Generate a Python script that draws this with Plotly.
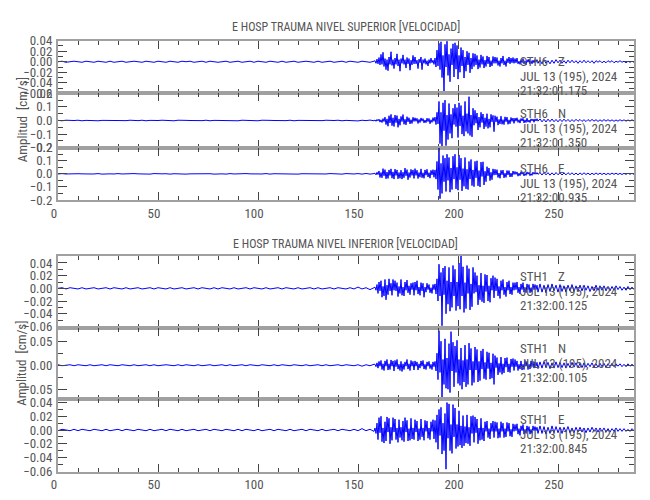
import numpy as np
import plotly.graph_objects as go

# ---------------- data (velocity, units of 1e-3 cm/s) ----------------
# samples: t = 0..158 step 2 s (80), 158.5..240 step 0.5 s (164), 241..288 step 1 s (48)
top_z = [
    0,1,-1,0,1,0,-1,1,0,-1, 1,0,-1,1,-1,0,1,-1,0,1, 0,-1,1,0,-1,1,0,-1,1,0, -1,1,0,1,-1,0,1,-1,1,0,
    -1,0,1,-1,0,1,-1,0,1,-1, 1,0,-1,1,0,-1,1,-1,0,1, -1,0,1,0,-1,1,-1,0,1,-1, 0,1,-1,1,0,-1,1,0,-1,1,
    2,-3,5,-4,8,-6,14,-5,18,-9,6,-15,4,-17,9,-5,19,-7,4,-13,
    7,-5,15,-8,4,-18,6,-3,13,-5,4,-12,8,-4,6,-16,3,-6,12,-4,
    9,-4,3,-13,5,-2,9,-15,4,-3,6,-5,2,-8,4,-3,7,-2,3,-5,
    7,-10,22,-8,35,-15,38,-30,12,-58,33,-10,39,-26,14,-38,25,-6,34,-29,
    36,-14,31,-33,12,-20,27,-8,22,-31,9,-18,20,-6,17,-21,7,-14,16,-9,
    15,-6,12,-14,4,-11,13,-5,10,-12,3,-9,11,-4,9,-10,2,-8,10,-3,
    9,-3,8,-7,2,-9,7,-3,11,-6,2,-9,6,-2,9,-4,7,-2,8,-3,
    6,-2,7,-4,1,-5,4,-2,6,-4,2,-6,4,-1,5,-4,2,-4,3,-2,
    4,-1,4,-3,
    3,-4,4,-3,2,-4,3,-3,4,-2, 3,-3,2,-3,3,-2,3,-2,2,-3, 2,-2,3,-2,2,-2,2,-3,2,-1, 2,-2,1,-2,2,-1,2,-2,1,-1,
    2,-1,1,-2,1,-1,1,-1,
]
top_n = [
    1,-2,2,-1,0,2,-2,1,-1,2, -2,1,0,-1,2,-2,1,-1,2,0, -1,2,-2,1,-1,0,2,-1,1,-2, 2,-1,1,0,-2,1,-1,2,-2,1,
    0,-1,2,-1,1,-2,2,0,-1,1, -2,2,-1,1,0,-2,1,-1,2,-2, 1,0,-1,2,-2,1,-1,2,-1,0, 2,-2,1,-1,2,-3,2,-1,3,-2,
    4,-6,8,-3,10,-12,5,-15,14,-8,25,-30,12,-42,35,-18,45,-38,20,-44,
    40,-16,36,-50,12,-35,30,-8,44,-28,9,-32,28,-10,20,-25,6,-22,24,-7,
    20,-6,16,-22,8,-15,19,-5,14,-18,4,-16,17,-8,15,-24,5,-14,21,-6,
    25,-30,60,-25,140,-170,60,-200,130,-75,150,-185,40,-140,125,-95,45,-130,90,-30,
    120,-45,95,-125,130,-40,110,-100,35,-115,140,-80,50,-95,175,-110,40,-120,90,-35,
    75,-20,55,-70,25,-50,60,-15,48,-62,20,-45,50,-58,12,-50,45,-10,38,-82,
    35,-10,28,-34,8,-25,32,-28,6,-30,27,-9,25,-28,5,-24,22,-7,18,-21,
    18,-5,20,-14,6,-19,15,-4,16,-18,5,-15,17,-12,4,-15,12,-3,11,-13,
    12,-4,13,-5,
    12,-10,9,-11,10,-8,11,-9,8,-10, 9,-8,10,-7,8,-9,7,-8,9,-6, 8,-7,6,-8,7,-6,8,-5,6,-7, 5,-6,7,-5,6,-5,5,-6,4,-5,
    6,-4,5,-5,4,-4,5,-4,
]
top_e = [
    -1,2,-1,1,-2,1,0,2,-1,-1, 2,-2,1,0,-1,2,-1,1,-2,2, 0,-1,1,-2,2,-1,0,1,-2,1, -1,2,-2,0,1,-1,2,-1,1,-2,
    1,0,-2,2,-1,1,-1,2,0,-2, 1,-1,2,-2,1,0,-1,2,-1,1, -2,1,0,-1,2,-2,1,-1,2,-1, 1,-2,2,0,-1,2,-2,3,-2,2,
    5,-8,12,-6,22,-28,10,-30,40,-15,32,-38,14,-35,30,-12,38,-33,15,-40,
    36,-12,30,-38,10,-34,28,-40,12,-30,44,-15,32,-45,10,-28,34,-12,30,-35,
    40,-12,28,-36,10,-25,38,-30,8,-34,30,-10,35,-24,9,-33,27,-8,32,-26,
    30,-40,95,-120,200,-190,80,-150,140,-60,120,-135,150,-50,125,-140,45,-120,135,-40,
    150,-115,50,-125,145,-45,120,-130,40,-95,125,-115,35,-120,95,-40,110,-90,30,-98,
    95,-30,100,-92,25,-100,90,-20,92,-85,20,-60,55,-15,45,-52,12,-45,38,-10,
    35,-8,32,-28,6,-34,27,-7,29,-31,5,-27,26,-8,25,-24,6,-23,22,-5,
    18,-4,15,-18,5,-14,16,-3,13,-16,4,-12,15,-3,12,-14,3,-12,13,-3,
    11,-3,10,-4,
    10,-9,11,-8,9,-10,8,-9,10,-7, 8,-9,7,-8,9,-6,8,-7,6,-8, 7,-6,8,-5,6,-7,5,-6,7,-5, 6,-5,5,-6,4,-5,6,-4,5,-5,
    4,-5,4,-4,5,-3,4,-4,
]
bot_z = [
    0,1,-1,1,0,-1,1,-1,0,1, -1,0,1,-1,1,0,-1,1,-1,0, 1,-1,0,1,-1,1,0,-1,1,-1, 0,1,-1,0,1,-1,1,0,-1,1,
    -1,1,0,-1,1,-1,0,1,-1,1, 0,-1,1,-1,0,1,-1,1,0,-1, 1,-1,0,1,-1,1,-1,0,1,-1, 1,0,-1,1,-1,2,-1,1,-2,1,
    2,-3,6,-8,10,-4,12,-14,3,-12,14,-18,5,-10,15,-4,8,-11,14,-3,
    12,-4,9,-13,3,-8,14,-11,2,-12,10,-3,13,-7,4,-10,8,-2,9,-11,
    10,-3,12,-9,2,-11,9,-4,8,-14,2,-6,8,-2,6,-7,1,-8,6,-2,
    7,-9,15,-20,38,-12,25,-59,32,-10,35,-40,12,-25,33,-36,10,-30,36,-12,
    30,-35,10,-28,40,-33,51,-12,34,-38,9,-32,36,-8,31,-34,7,-29,33,-8,
    25,-6,20,-26,5,-18,24,-21,4,-23,22,-5,21,-20,4,-22,16,-3,20,-15,
    17,-4,15,-12,3,-16,12,-3,14,-10,2,-13,10,-3,12,-9,2,-10,9,-3,
    9,-2,10,-7,2,-9,7,-2,9,-6,1,-7,7,-2,6,-7,1,-6,7,-2,
    6,-2,5,-6,
    7,-6,5,-7,6,-5,7,-4,5,-6, 6,-5,4,-6,5,-4,6,-5,4,-5, 5,-4,5,-3,4,-5,3,-4,5,-3, 4,-3,4,-4,3,-4,3,-3,4,-2,
    3,-3,2,-3,3,-2,2,-2,
]
bot_n = [
    1,-1,0,1,-1,1,0,-1,1,-1, 0,1,-1,1,0,-1,1,0,-1,1, -1,0,1,-1,1,-1,0,1,0,-1, 1,-1,1,0,-1,1,-1,0,1,-1,
    0,1,-1,1,-1,0,1,-1,1,0, -1,1,0,-1,1,-1,1,0,-1,1, 0,-1,1,-1,0,1,-1,1,-1,0, 1,-1,1,0,-1,1,-2,1,-1,2,
    2,-3,5,-6,8,-2,10,-9,3,-11,9,-2,12,-10,3,-9,11,-2,9,-12,
    10,-3,12,-8,2,-11,8,-13,3,-9,7,-2,12,-8,3,-11,10,-2,8,-10,
    9,-2,7,-10,3,-6,9,-2,10,-8,2,-9,7,-2,8,-7,2,-9,7,-3,
    8,-12,25,-30,72,-15,50,-68,12,-40,55,-48,15,-50,45,-57,70,-12,48,-45,
    40,-15,52,-38,12,-42,36,-50,10,-35,42,-45,12,-40,46,-10,35,-42,8,-36,
    38,-10,33,-35,8,-32,30,-8,34,-28,6,-30,28,-7,26,-29,5,-27,24,-40,
    20,-5,16,-20,4,-15,17,-19,3,-16,15,-4,16,-14,3,-15,13,-3,14,-11,
    12,-3,9,-11,2,-8,9,-10,2,-9,10,-2,8,-9,2,-8,9,-2,8,-6,
    7,-2,6,-7,
    7,-6,8,-5,6,-7,5,-6,7,-5, 6,-5,5,-6,4,-5,6,-4,5,-5, 4,-5,5,-4,4,-3,5,-4,3,-4, 4,-3,4,-4,3,-3,4,-3,3,-2,
    3,-3,2,-3,3,-2,2,-2,
]
bot_e = [
    -1,1,0,-1,1,-1,1,0,-1,1, 0,-1,1,-1,0,1,-1,1,0,-1, 1,0,-1,1,-1,0,1,-1,1,0, -1,1,-1,0,1,-1,0,1,-1,1,
    0,-1,1,0,-1,1,-1,1,0,-1, 1,-1,0,1,-1,1,0,-1,1,-1, 0,1,-1,1,0,-1,1,-1,0,1, -1,1,0,-1,1,-1,2,-1,1,-2,
    3,-5,10,-14,18,-4,20,-17,3,-19,12,-16,19,-3,17,-20,4,-15,18,-3,
    16,-14,3,-18,15,-11,4,-15,13,-17,18,-3,14,-16,2,-15,17,-13,3,-14,
    15,-3,13,-16,2,-14,16,-10,3,-15,14,-2,13,-12,3,-14,12,-2,15,-13,
    14,-18,22,-28,30,-8,33,-35,10,-30,24,-57,40,-12,38,-30,8,-34,37,-10,
    32,-27,8,-24,28,-22,6,-26,21,-23,5,-19,22,-20,4,-23,20,-5,21,-18,
    19,-4,16,-20,3,-15,17,-14,3,-16,12,-2,13,-11,2,-13,10,-2,13,-11,
    12,-2,11,-12,2,-11,12,-2,10,-11,2,-10,11,-2,10,-9,1,-10,9,-2,
    8,-1,9,-6,2,-8,6,-1,8,-6,1,-5,6,-2,5,-6,1,-5,6,-1,
    5,-1,4,-5,
    6,-5,5,-6,4,-5,6,-4,5,-4, 4,-5,4,-3,5,-4,3,-4,4,-3, 4,-3,3,-4,3,-3,4,-2,3,-3, 3,-2,3,-3,2,-3,2,-2,3,-2,
    2,-2,2,-2,1,-2,2,-1,
]

traces = [top_z, top_n, top_e, bot_z, bot_n, bot_e]
stations = ["STH6", "STH6", "STH6", "STH1", "STH1", "STH1"]
components = ["Z", "N", "E", "Z", "N", "E"]
start_times = ["21:32:01.175", "21:32:01.350", "21:32:00.935",
               "21:32:00.125", "21:32:00.105", "21:32:00.845"]
date_label = "JUL 13 (195), 2024"
panel_titles = ["E HOSP TRAUMA NIVEL SUPERIOR [VELOCIDAD]",
                "E HOSP TRAUMA NIVEL INFERIOR [VELOCIDAD]"]
y_ranges = [(-0.06, 0.04), (-0.2, 0.2), (-0.2, 0.2),
            (-0.063, 0.051), (-0.071, 0.077), (-0.0607, 0.0447)]
y_dticks = [0.02, 0.1, 0.1, 0.02, 0.05, 0.02]
y_minor = [0.01, 0.05, 0.05, 0.01, 0.025, 0.01]
y_formats = [".2f", ".1f", ".1f", ".2f", ".2f", ".2f"]
x_range = (0, 288)

t = np.concatenate([np.arange(0, 159, 2.0),
                    158.5 + 0.5 * np.arange(164),
                    np.arange(241, 289, 1.0)])
for v in traces:
    assert len(v) == len(t), (len(v), len(t))

# ---------------- layout constants (pixels) ----------------
W, H = 650, 500
XL, XR = 58, 634
SUB_PX = [(40.7, 93.3), (93.3, 147.7), (147.7, 200.0),
          (256.0, 328.3), (328.3, 399.3), (399.3, 471.7)]
FONT = "Roboto Condensed, Liberation Sans, sans-serif"
TXT = "#555555"
FRAME = "#a0a0a0"
TICK = "#444444"

def py(px):
    return 1 - px / H

fig = go.Figure()
for i, vals in enumerate(traces):
    k = "" if i == 0 else str(i + 1)
    fig.add_trace(go.Scatter(
        x=t, y=np.array(vals, dtype=float) * 1e-3, mode="lines",
        line=dict(color="#0000ff", width=1), xaxis="x" + k, yaxis="y" + k,
        showlegend=False, hoverinfo="skip"))

layout = dict(width=W, height=H, margin=dict(l=0, r=0, t=0, b=0, pad=0),
              autosize=False,
              paper_bgcolor="white", plot_bgcolor="white", showlegend=False,
              font=dict(family=FONT, size=12, color=TXT))
for i in range(6):
    k = "" if i == 0 else str(i + 1)
    top, bot = SUB_PX[i]
    xa = dict(domain=[XL / W, XR / W], range=list(x_range), anchor="y" + k,
              automargin=False,
              showgrid=False, zeroline=False, showline=True, linecolor=FRAME,
              linewidth=2, mirror="ticks", ticks="inside", ticklen=8,
              tickcolor=TICK, tickwidth=1, tick0=0, dtick=50,
              minor=dict(dtick=10, tick0=0, ticklen=4, ticks="inside",
                         tickcolor=TICK, tickwidth=1, showgrid=False),
              showticklabels=(i in (2, 5)), ticklabelstandoff=0,
              ticklabelshift=-4,
              tickfont=dict(family=FONT, size=13, color=TXT))
    if i > 0:
        xa["matches"] = "x"
    ya = dict(domain=[py(bot), py(top)], range=list(y_ranges[i]), anchor="x" + k,
              automargin=False,
              showgrid=False, zeroline=False, showline=True, linecolor=FRAME,
              linewidth=2, mirror="ticks", ticks="inside", ticklen=9,
              tickcolor=TICK, tickwidth=1, tick0=0, dtick=y_dticks[i],
              tickformat=y_formats[i],
              minor=dict(dtick=y_minor[i], tick0=0, ticklen=5, ticks="inside",
                         tickcolor=TICK, tickwidth=1, showgrid=False),
              ticklabelstandoff=1,
              tickfont=dict(family=FONT, size=13, color=TXT))
    layout["xaxis" + k] = xa
    layout["yaxis" + k] = ya

ann = []
for j, title in enumerate(panel_titles):
    ann.append(dict(text=title, x=(XL + XR) / 2 / W, y=py([27, 244][j]),
                    xref="paper", yref="paper", showarrow=False,
                    xanchor="center", yanchor="middle",
                    font=dict(family=FONT, size=12, color=TXT)))
    ann.append(dict(text="Amplitud  [cm/s]", x=22 / W, y=py([120.3, 363.8][j]),
                    xref="paper", yref="paper", showarrow=False, textangle=-90,
                    xanchor="center", yanchor="middle",
                    font=dict(family=FONT, size=13, color=TXT)))
for i in range(6):
    top = SUB_PX[i][0]
    lines = [(stations[i], 517.7, 20.5), (components[i], 555.5, 20.5),
             (date_label, 517.7, 35.3), (start_times[i], 517.7, 49.5)]
    for txt, xpx, off in lines:
        ann.append(dict(text=txt, x=xpx / W, y=py(top + off), xref="paper",
                        yref="paper", showarrow=False, xanchor="left",
                        yanchor="middle",
                        font=dict(family=FONT, size=13, color=TXT)))
layout["annotations"] = ann
fig.update_layout(**layout)
fig.write_html("out.html", config={"displayModeBar": False},
               post_script="document.body.style.margin='0';document.body.style.padding='0';")
